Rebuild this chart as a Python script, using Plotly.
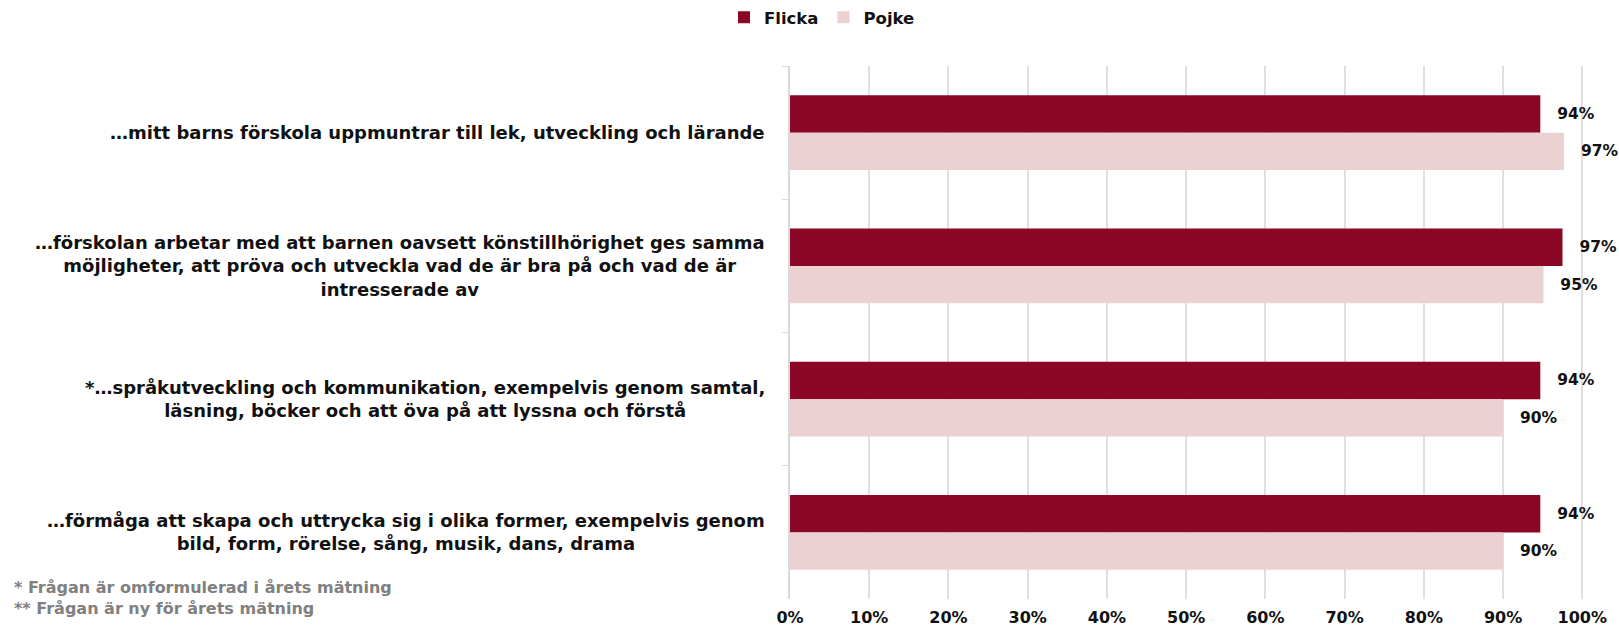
import plotly.graph_objects as go

categories = [
    "…mitt barns förskola uppmuntrar till lek, utveckling och lärande",
    "…förskolan arbetar med att barnen oavsett könstillhörighet ges samma<br>möjligheter, att pröva och utveckla vad de är bra på och vad de är<br>intresserade av",
    "*…språkutveckling och kommunikation, exempelvis genom samtal,<br>läsning, böcker och att öva på att lyssna och förstå",
    "…förmåga att skapa och uttrycka sig i olika former, exempelvis genom<br>bild, form, rörelse, sång, musik, dans, drama",
]
series_names = ["Flicka", "Pojke"]
flicka = [94.7, 97.5, 94.7, 94.7]
pojke = [97.7, 95.1, 90.0, 90.0]
flicka_labels = ["94%", "97%", "94%", "94%"]
pojke_labels = ["97%", "95%", "90%", "90%"]
x_ticks = [0, 10, 20, 30, 40, 50, 60, 70, 80, 90, 100]
x_tick_labels = ["0%", "10%", "20%", "30%", "40%", "50%", "60%", "70%", "80%", "90%", "100%"]
footnotes = ["* Frågan är omformulerad i årets mätning", "** Frågan är ny för årets mätning"]

colors = ["#8C0726", "#EBD1D2"]
FONT = "DejaVu Sans"

W, H = 1619, 629
ML, MR, MT, MB = 790, 5, 66, 30
PW, PH = W - ML - MR, H - MT - MB

fig = go.Figure()
for name, vals, labs, col in zip(series_names, [flicka, pojke], [flicka_labels, pojke_labels], colors):
    fig.add_trace(go.Bar(
        name=name, y=categories, x=vals, orientation="h",
        marker=dict(color=col, line=dict(width=0)),
        text=labs, texttemplate="\u00a0\u00a0\u2009%{text}", textposition="outside",
        textfont=dict(family=FONT, size=15.5, color="#111111", weight="bold"),
        constraintext="none", cliponaxis=False, hoverinfo="skip",
    ))

annotations = []
for c in categories:
    annotations.append(dict(
        x=0, xref="paper", y=c, yref="y", xanchor="right", yanchor="middle",
        xshift=-23, align="center", showarrow=False, text=c,
        font=dict(family=FONT, size=18, color="#111111", weight="bold"),
    ))
annotations.append(dict(
    x=(12 - ML) / PW, xref="paper", y=(H - MB - 598) / PH, yref="paper",
    xanchor="left", yanchor="middle",
    align="left", showarrow=False, text="<br>".join(footnotes),
    font=dict(family=FONT, size=16, color="#808080", weight="bold"),
))

fig.update_layout(
    width=W, height=H,
    margin=dict(l=ML, r=MR, t=MT, b=MB, autoexpand=False),
    paper_bgcolor="white", plot_bgcolor="white",
    barmode="group", bargap=0.44, bargroupgap=0,
    showlegend=True,
    legend=dict(orientation="h", x=822 / W, xref="container", xanchor="center",
                y=1 - 17.5 / H, yref="container", yanchor="middle",
                font=dict(family=FONT, size=16.5, color="#111111", weight="bold"),
                traceorder="normal", itemwidth=30),
    xaxis=dict(range=[0, 104], tickvals=x_ticks, ticktext=x_tick_labels,
               showgrid=True, gridcolor="#e0e0e0", gridwidth=1.5,
               zeroline=False, showline=False, ticks="", automargin=False,
               ticklabelstandoff=7,
               tickfont=dict(family=FONT, size=16, color="#111111", weight="bold")),
    yaxis=dict(autorange="reversed", showticklabels=False, showgrid=False,
               showline=True, linecolor="#d9d9d9", linewidth=1.5, automargin=False,
               ticks="outside", ticklen=6, tickcolor="#d9d9d9", tickson="boundaries"),
    annotations=annotations,
)

fig.write_html(
    "out.html",
    config={"displayModeBar": False},
    post_script="document.body.style.margin='0';document.body.style.overflow='hidden';",
)
